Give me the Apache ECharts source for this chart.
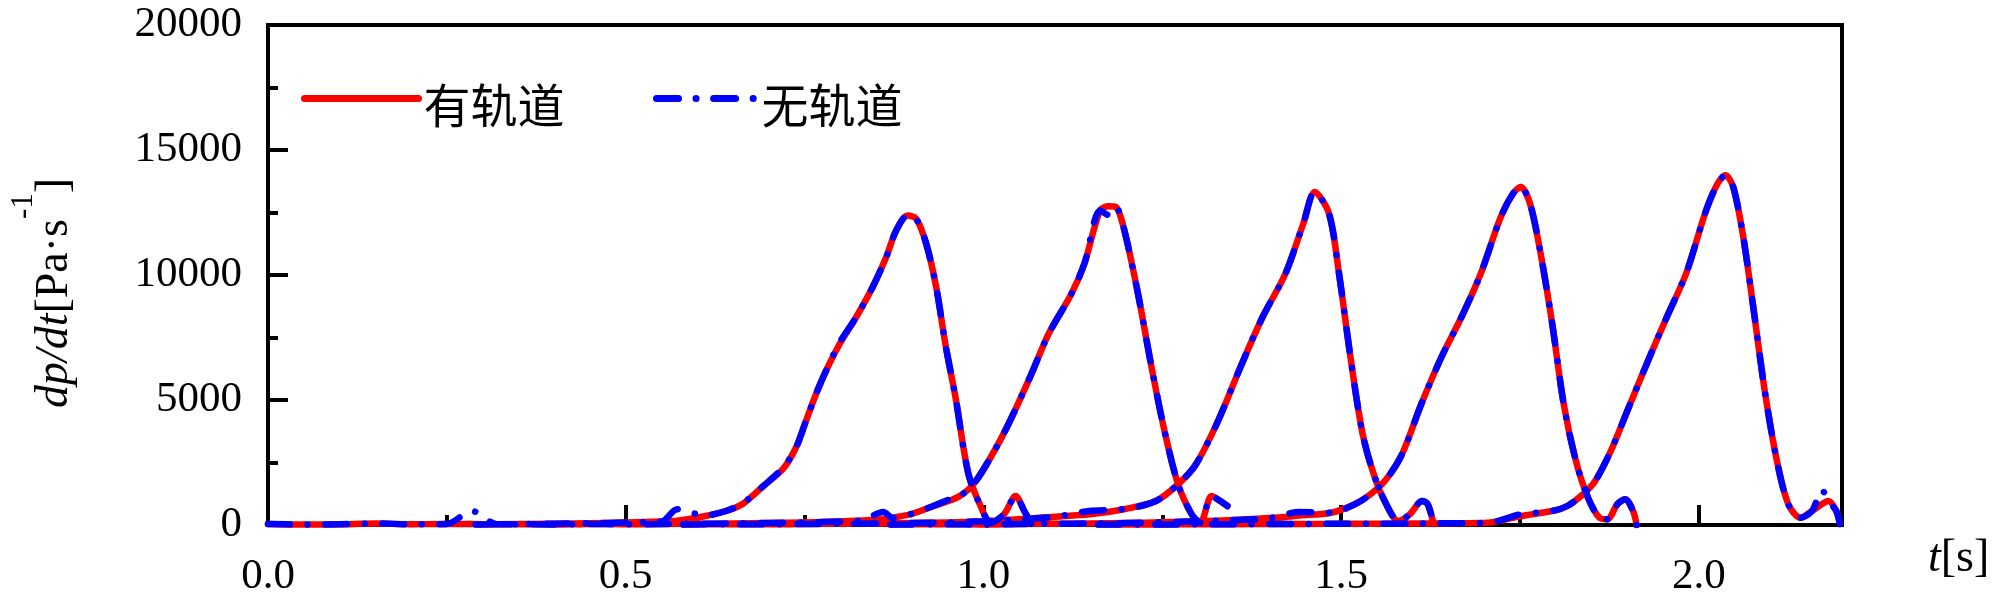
<!DOCTYPE html>
<html>
<head>
<meta charset="utf-8">
<script src="https://cdn.jsdelivr.net/npm/echarts@6/dist/echarts.min.js"></script>
<style>html,body{margin:0;padding:0;background:#fff}#chart{width:2000px;height:600px}</style>
</head>
<body>
<div id="chart"></div>
<script>
// 图例名称
var SERIES_NAMES = ['有轨道', '无轨道'];
// 横轴刻度
var X_MAJOR = [0, 0.5, 1.0, 1.5, 2.0];
var X_MINOR = [0.25, 0.75, 1.25, 1.75];

// 第1个波峰
var t1 = [0, 0.05, 0.1, 0.15, 0.2, 0.25, 0.285, 0.32, 0.4, 0.45, 0.5, 0.55, 0.572, 0.61, 0.64, 0.664, 0.692, 0.72,
    0.738, 0.752, 0.766, 0.78, 0.799, 0.822, 0.845, 0.864, 0.878, 0.894, 0.906, 0.92, 0.934, 0.947, 0.961, 0.979,
    0.997, 1.01, 1.029, 1.045, 1.057, 1.067];
var red1 = [40, 20, 30, 60, 30, 40, 40, 30, 50, 70, 100, 140, 170, 350, 560, 850, 1550, 2250,
    3100, 4170, 5240, 6170, 7240, 8310, 9510, 10710, 11780, 12380, 12250, 11250, 9510, 7200, 5100, 2040,
    690, 90, 440, 1160, 560, 40];
var blue1 = [40, 20, 30, 60, 30, 40, 560, 30, 50, 70, 100, 140, 630, 380, 560, 880, 1550, 2300,
    3100, 4170, 5240, 6170, 7300, 8310, 9510, 10710, 11780, 12380, 12250, 11250, 9510, 7200, 5100, 2040,
    690, 90, 440, 1160, 560, 40];

// 第2个波峰
var t2 = [0.29, 0.35, 0.4, 0.45, 0.5, 0.55, 0.6, 0.65, 0.7, 0.75, 0.8, 0.83, 0.86, 0.873, 0.9, 0.93, 0.95, 0.967, 0.986,
    1.01, 1.035, 1.067, 1.091, 1.123, 1.141, 1.163, 1.175, 1.185, 1.197, 1.216, 1.235, 1.253, 1.272, 1.291, 1.303, 1.319, 1.331, 1.341];
var red2 = [20, 30, 20, 40, 30, 40, 50, 60, 80, 100, 140, 180, 230, 290, 450, 760, 950, 1160, 1630,
    2700, 4040, 6040, 7640, 9250, 10450, 12580, 12750, 12720, 11780, 9250, 6300, 3770, 1630, 430, 90, 1160, 960, 760];
var blue2 = [20, 30, 20, 40, 30, 40, 50, 60, 80, 100, 140, 180, 520, 290, 450, 760, 1000, 1160, 1630,
    2700, 4040, 6040, 7640, 9250, 10450, 12580, 12400, 12720, 11780, 9250, 6300, 3770, 1630, 430, 90, 1160, 960, 760];

// 第3个波峰
var t3 = [0.58, 0.65, 0.7, 0.75, 0.8, 0.85, 0.9, 0.95, 1.0, 1.05, 1.1, 1.148, 1.2, 1.241, 1.272, 1.297, 1.328,
    1.359, 1.39, 1.422, 1.447, 1.463, 1.483, 1.497, 1.513, 1.53, 1.547, 1.563, 1.58, 1.596, 1.613, 1.621, 1.629];
var red3 = [20, 30, 30, 40, 50, 60, 80, 100, 150, 230, 330, 430, 650, 960, 1630, 2430, 4170,
    6300, 8310, 10050, 12050, 13320, 12450, 10050, 6710, 3640, 1900, 830, 160, 430, 960, 830, 40];
var blue3 = [20, 30, 30, 40, 50, 60, 80, 100, 150, 230, 330, 560, 650, 960, 1630, 2430, 4170,
    6300, 8310, 10050, 12050, 13320, 12450, 10050, 6710, 3640, 1900, 830, 160, 430, 960, 830, 40];

// 第4个波峰
var t4 = [0.87, 0.95, 1.0, 1.05, 1.1, 1.15, 1.2, 1.25, 1.3, 1.35, 1.4, 1.442, 1.486, 1.519, 1.541, 1.563, 1.585, 1.612,
    1.64, 1.668, 1.695, 1.723, 1.74, 1.751, 1.764, 1.778, 1.795, 1.811, 1.828, 1.845, 1.861, 1.872, 1.886, 1.897, 1.908, 1.913];
var red4 = [20, 30, 20, 40, 50, 60, 80, 110, 150, 200, 280, 380, 490, 830, 1230, 1830, 2830, 4840,
    6710, 8310, 10050, 12320, 13250, 13520, 12850, 10980, 8040, 4840, 2570, 1090, 290, 230, 830, 1030, 560, 0];
var blue4 = [20, 30, 20, 40, 50, 60, 80, 110, 150, 200, 280, 520, 490, 830, 1230, 1830, 2830, 4840,
    6710, 8310, 10050, 12320, 13250, 13520, 12850, 10980, 8040, 4840, 2570, 1090, 290, 230, 830, 1030, 560, 0];

// 第5个波峰
var t5 = [1.16, 1.25, 1.3, 1.35, 1.4, 1.45, 1.5, 1.55, 1.6, 1.65, 1.706, 1.751, 1.795, 1.816, 1.838, 1.855, 1.877, 1.9,
    1.927, 1.955, 1.982, 2.01, 2.026, 2.037, 2.048, 2.062, 2.076, 2.092, 2.109, 2.125, 2.142, 2.158, 2.172, 2.181, 2.192, 2.197];
var red5 = [20, 20, 30, 30, 40, 40, 50, 50, 60, 70, 93, 360, 560, 760, 1230, 1760, 2970, 4570,
    6440, 8310, 10050, 12580, 13650, 13990, 13520, 11520, 8710, 5370, 2570, 830, 290, 560, 840, 960, 560, 40];
var blue5 = [20, 20, 30, 30, 40, 40, 50, 50, 60, 70, 93, 430, 560, 760, 1230, 1760, 2970, 4570,
    6440, 8310, 10050, 12580, 13650, 13990, 13520, 11520, 8710, 5370, 2570, 830, 290, 560, 1400, 960, 560, 40];

var FONT = "'Liberation Serif', 'Noto Sans CJK SC', serif";

/** 把几段波形接成一条线，段与段之间断开 */
function joinPulses(times, values) {
    var out = [];
    for (var k = 0; k < times.length; k++) {
        for (var i = 0; i < times[k].length; i++)
            out.push([times[k][i], values[k][i]]);
        out.push([times[k][times[k].length - 1], '-']);
    }
    return out;
}

var times = [t1, t2, t3, t4, t5];
var chart = echarts.init(document.getElementById('chart'));

function makeLegend(name, left, width) {
    return {
        data: [name],
        left: left,
        top: 87,
        orient: 'horizontal',
        padding: 0,
        itemWidth: width,
        itemHeight: 20,
        itemGap: 0,
        itemStyle: { opacity: 0 },
        lineStyle: { width: 7 },
        formatter: '{a|{name}}',
        textStyle: {
            fontFamily: FONT, fontSize: 47, color: '#000',
            rich: { a: { fontFamily: FONT, fontSize: 47, color: '#000', padding: [24, 0, 0, 0] } }
        }
    };
}

chart.setOption({
    animation: false,
    backgroundColor: '#fff',
    grid: { left: 264, right: 158, top: 25, bottom: 75, show: true, borderColor: '#000', borderWidth: 4 },
    legend: [
        makeLegend(SERIES_NAMES[0], 301, 114),
        makeLegend(SERIES_NAMES[1], 653, 100)
    ],
    xAxis: [{
        type: 'value', min: 0, max: 2.2, interval: 0.5,
        splitLine: { show: false },
        axisLine: { lineStyle: { color: '#000', width: 4 } },
        axisTick: { inside: true, length: 20, customValues: X_MAJOR, lineStyle: { color: '#000', width: 4 } },
        axisLabel: { customValues: X_MAJOR, margin: 30, fontFamily: FONT, fontSize: 43, color: '#000',
            formatter: function (v) { return v.toFixed(1); } },
        name: '{i|t}[s]',
        nameLocation: 'end',
        nameGap: 86,
        nameTextStyle: { fontFamily: FONT, fontSize: 46, color: '#000', padding: [68, 0, 0, 0],
            rich: { i: { fontFamily: FONT, fontSize: 46, fontStyle: 'italic', color: '#000' } } }
    }, {
        type: 'value', min: 0, max: 2.2, position: 'bottom',
        splitLine: { show: false },
        axisLine: { show: false },
        axisTick: { inside: true, length: 10, customValues: X_MINOR, lineStyle: { color: '#000', width: 4 } },
        axisLabel: { show: false }
    }],
    yAxis: {
        type: 'value', min: 0, max: 20000, interval: 5000,
        splitLine: { show: false },
        axisLine: { show: true, lineStyle: { color: '#000', width: 4 } },
        axisTick: { inside: true, length: 20, lineStyle: { color: '#000', width: 4 } },
        minorTick: { show: true, splitNumber: 2, length: 10, lineStyle: { color: '#000', width: 4 } },
        axisLabel: { margin: 26, fontFamily: FONT, fontSize: 43, color: '#000',
            formatter: function (v) { return String(v); } },
        name: '{i|dp/dt}{n|[Pa·s}{s|-1}{n|]}',
        nameLocation: 'middle',
        nameRotate: 90,
        nameGap: 190,
        nameTextStyle: { fontFamily: FONT, fontSize: 46, color: '#000', padding: [0, 36, 0, 0],
            rich: {
                i: { fontFamily: FONT, fontSize: 46, fontStyle: 'italic', color: '#000', padding: [24, 0, 0, 0] },
                n: { fontFamily: FONT, fontSize: 46, color: '#000', padding: [24, 0, 0, 0] },
                s: { fontFamily: FONT, fontSize: 31, color: '#000', verticalAlign: 'top' }
            } }
    },
    series: [{
        name: SERIES_NAMES[0],
        type: 'line',
        xAxisIndex: 0,
        symbol: 'none',
        smooth: 0.3,
        data: joinPulses(times, [red1, red2, red3, red4, red5]),
        itemStyle: { color: '#ff0000' },
        lineStyle: { color: '#ff0000', width: 6.5, cap: 'round', join: 'round' }
    }, {
        name: SERIES_NAMES[1],
        type: 'line',
        xAxisIndex: 0,
        symbol: 'none',
        smooth: 0.3,
        data: joinPulses(times, [blue1, blue2, blue3, blue4, blue5]),
        itemStyle: { color: '#0000ff' },
        lineStyle: { color: '#0000ff', width: 6.5, type: [22, 17.5, 0.1, 17.5], cap: 'round', join: 'round' }
    }]
});
</script>
</body>
</html>
